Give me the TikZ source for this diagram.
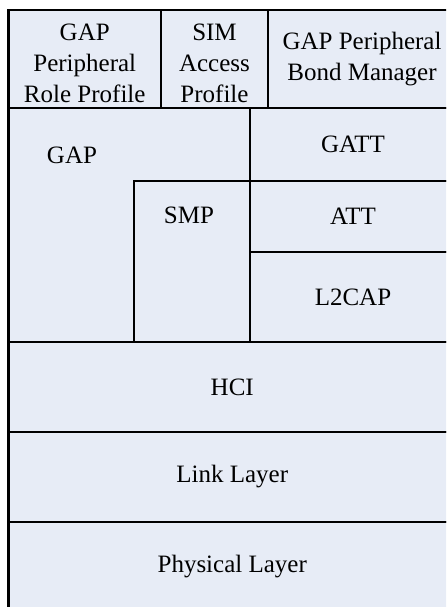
\documentclass[tikz,border=0pt]{standalone}
\usepackage{fontspec}
\setmainfont{Liberation Serif}
\usepackage{xcolor}
\usetikzlibrary{positioning}
\definecolor{stackBlue}{RGB}{231, 236, 246}

\begin{document}
\begin{tikzpicture}[x=0.5pt, y=-0.5pt]
        \tikzstyle{cell} = [rectangle, draw=black, line width=1.2pt, fill=stackBlue, inner sep=0pt, text centered, align=center, font=\fontsize{12.5}{15.5}\selectfont]
        \tikzstyle{tag} = [inner sep=0pt, font=\fontsize{12.5}{15.5}\selectfont]

        \useasboundingbox (0,0) rectangle (446,607);
        \clip (0,0) rectangle (446,607);

        % Profiles
        \node[cell, minimum width=76.25pt, minimum height=49pt] (prp) at (84.75,59) {};
        \node[tag, align=center] (prptag) at (84.75,63) {GAP\\Peripheral\\Role Profile};
        \node[cell, minimum width=53.5pt, minimum height=49pt] (sap) at (214.5,59) {};
        \node[tag, align=center] (saptag) at (214.5,63) {SIM\\Access\\Profile};
        \node[cell, minimum width=94pt, minimum height=49pt] (pbm) at (362,59) {GAP Peripheral\\Bond Manager};

        % Host
        \node[cell, minimum width=120.75pt, minimum height=117pt] (gap) at (129.25,225) {};
        \node[tag] (gaptag) at (72,155) {GAP};
        \node[cell, minimum width=58pt, minimum height=80.5pt] (smp) at (192,261.5) {};
        \node[tag] (smptag) at (189,215) {SMP};
        \node[cell, minimum width=103pt, minimum height=36.5pt] (gatt) at (353,144.5) {GATT};
        \node[cell, minimum width=103pt, minimum height=35.5pt] (att) at (353,216.5) {ATT};
        \node[cell, minimum width=103pt, minimum height=45pt] (l2cap) at (353,297) {L2CAP};

        % Controller
        \node[cell, minimum width=223.75pt, minimum height=45pt] (hci) at (232.25,387) {HCI};
        \node[cell, minimum width=223.75pt, minimum height=45pt] (link) at (232.25,477) {Link Layer};
        \node[cell, minimum width=223.75pt, minimum height=45pt] (phy) at (232.25,567) {Physical Layer};
    \end{tikzpicture}
\end{document}
